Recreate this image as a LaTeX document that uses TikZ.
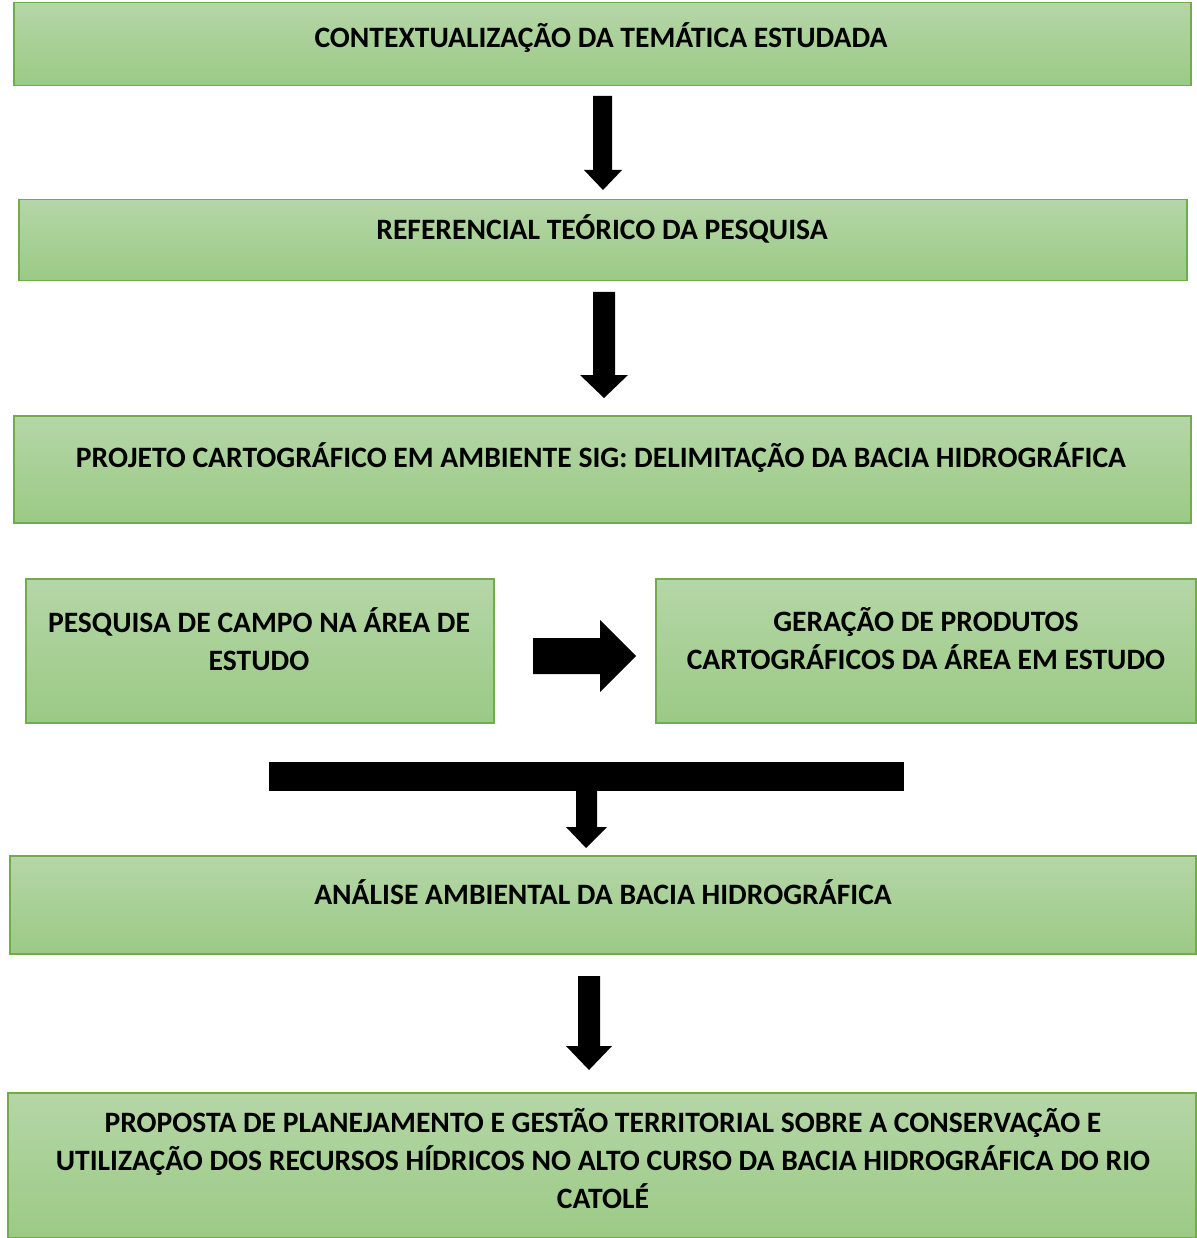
\documentclass[tikz,border=0pt]{standalone}
\usepackage{fontspec}
\setmainfont{Carlito}
\begin{document}
\begin{tikzpicture}[x=1pt,y=-1pt]
\definecolor{gtop}{HTML}{B5D6A7}
\definecolor{gbot}{HTML}{9BCA85}
\definecolor{gline}{HTML}{70AD47}
\tikzset{
  box/.style={draw=gline, line width=1.5pt, top color=gtop, bottom color=gbot, anchor=north west, inner sep=0pt},
  lbl/.style={font=\bfseries\fontsize{29.6}{38}\selectfont, align=center, text=black, inner sep=0pt},
  blk/.style={fill=black}
}
\useasboundingbox (0,0) rectangle (1196,1238);
% boxes
\node[box, minimum width=1177pt, minimum height=83pt] (b1) at (13,2) {};
\node[box, minimum width=1168pt, minimum height=81pt] (b2) at (18,199) {};
\node[box, minimum width=1177pt, minimum height=107pt] (b3) at (13,415) {};
\node[box, minimum width=468pt, minimum height=144pt] (b4) at (25,578) {};
\node[box, minimum width=540pt, minimum height=144pt] (b5) at (655,578) {};
\node[box, minimum width=1186pt, minimum height=98pt] (b6) at (9,855) {};
\node[box, minimum width=1188pt, minimum height=145pt] (b7) at (7,1092) {};
% labels
\node[lbl] (t1) at (601,38) {CONTEXTUALIZAÇÃO DA TEMÁTICA ESTUDADA};
\node[lbl] (t2) at (602,229) {REFERENCIAL TEÓRICO DA PESQUISA};
\node[lbl] (t3) at (601,458) {PROJETO CARTOGRÁFICO EM AMBIENTE SIG: DELIMITAÇÃO DA BACIA HIDROGRÁFICA};
\node[lbl] (t4) at (259,639) {PESQUISA DE CAMPO NA ÁREA DE\\ESTUDO};
\node[lbl] (t5) at (926,639) {GERAÇÃO DE PRODUTOS\\CARTOGRÁFICOS DA ÁREA EM ESTUDO};
\node[lbl] (t6) at (603,892) {ANÁLISE AMBIENTAL DA BACIA HIDROGRÁFICA};
\node[lbl] (t7) at (603,1159) {PROPOSTA DE PLANEJAMENTO E GESTÃO TERRITORIAL SOBRE A CONSERVAÇÃO E\\UTILIZAÇÃO DOS RECURSOS HÍDRICOS NO ALTO CURSO DA BACIA HIDROGRÁFICA DO RIO\\CATOLÉ};
% block arrows
\fill[blk] (593,96) -- (612,96) -- (612,170) -- (622,170) -- (603,190) -- (584,170) -- (593,170) -- cycle;
\fill[blk] (593,292) -- (615,292) -- (615,375) -- (628,375) -- (604,398) -- (580,375) -- (593,375) -- cycle;
\fill[blk] (533,638) -- (600,638) -- (600,620) -- (636,656) -- (600,692) -- (600,674) -- (533,674) -- cycle;
\fill[blk] (269,762) rectangle (904,791);
\fill[blk] (576,790) -- (597,790) -- (597,827) -- (607,827) -- (586,848) -- (566,827) -- (576,827) -- cycle;
\fill[blk] (578,976) -- (600,976) -- (600,1046) -- (612,1046) -- (589,1070) -- (566,1046) -- (578,1046) -- cycle;
\end{tikzpicture}
\end{document}
